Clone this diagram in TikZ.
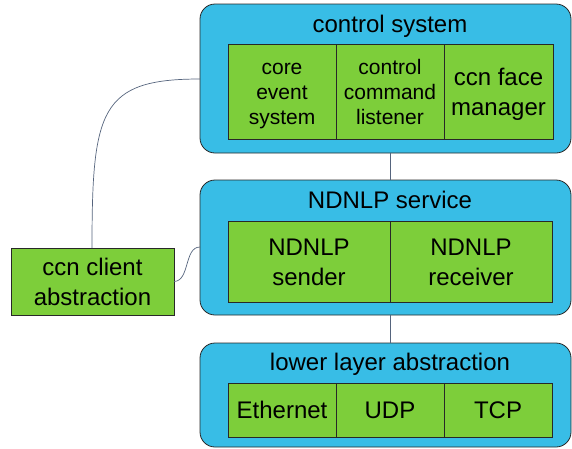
\documentclass[tikz,border=0pt]{standalone}
\usepackage{fontspec}
\setmainfont{Liberation Sans}
\definecolor{layerblue}{RGB}{56,189,230}
\definecolor{partgreen}{RGB}{125,206,58}
\definecolor{edgegray}{RGB}{40,40,40}
\definecolor{linkgray}{RGB}{85,100,125}
\newcommand\partlines[1]{\raisebox{-3pt}[\height][\depth]{\begin{tabular}{@{}c@{}}#1\end{tabular}}}
\begin{document}
\begin{tikzpicture}[x=1pt,y=-1pt,
  layer/.style={draw=edgegray,line width=0.8pt,fill=layerblue,rounded corners=15pt,inner sep=0pt,outer sep=0pt,anchor=north west},
  part/.style={draw=edgegray,line width=0.8pt,fill=partgreen,inner sep=0pt,outer sep=0pt,anchor=north west,align=center,text=black},
  big/.style={font=\fontsize{24}{30}\selectfont},
  small/.style={font=\fontsize{21}{25}\selectfont},
  title/.style={font=\fontsize{24}{30}\selectfont,inner sep=0pt},
  link/.style={draw=linkgray,line width=0.7pt}]
\useasboundingbox (0,0) rectangle (572,448);
% layers
\node[layer,minimum width=371pt,minimum height=149pt] (cs) at (200,4) {};
\node[layer,minimum width=371pt,minimum height=135pt] (nl) at (200,180) {};
\node[layer,minimum width=371pt,minimum height=104pt] (ll) at (200,343) {};
% titles
\node[title] (cst) at (390,26.5) {control system};
\node[title] (nlt) at (390,200) {NDNLP service};
\node[title] (llt) at (390,364) {lower layer abstraction};
% control system parts
\node[part,small,minimum width=108pt,minimum height=95pt] (core) at (228,44) {\partlines{core\\event\\system}};
\node[part,small,minimum width=108pt,minimum height=95pt] (ccl) at (336,44) {\partlines{control\\command\\listener}};
\node[part,big,minimum width=109pt,minimum height=95pt] (cfm) at (444,44) {\partlines{ccn face\\manager}};
% NDNLP parts
\node[part,big,minimum width=162pt,minimum height=81pt] (snd) at (228,221) {\partlines{NDNLP\\sender}};
\node[part,big,minimum width=162pt,minimum height=81pt] (rcv) at (390,221) {\partlines{NDNLP\\receiver}};
% lower layer parts
\node[part,big,minimum width=108pt,minimum height=54pt] (eth) at (228,383) {Ethernet};
\node[part,big,minimum width=108pt,minimum height=54pt] (udp) at (336,383) {UDP};
\node[part,big,minimum width=108pt,minimum height=54pt] (tcp) at (444,383) {TCP};
% client
\node[part,big,minimum width=163pt,minimum height=67pt] (cli) at (11,248) {\partlines{ccn client\\abstraction}};
% links
\draw[link] (cs.south -| cst) -- (nl.north -| nlt);
\draw[link] (nl.south -| nlt) -- (ll.north -| llt);
\coordinate (csw) at (200,79);
\coordinate (nlw) at (200,247);
\draw[link] (csw) .. controls (100,79) and (92,110) .. (cli.north -| 92,0);
\draw[link] (cli.east) .. controls (190,281) and (184,247) .. (nlw);
\end{tikzpicture}
\end{document}
